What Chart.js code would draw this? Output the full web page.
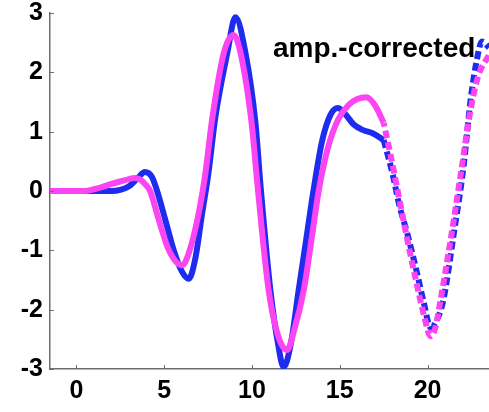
<!DOCTYPE html>
<html>
<head>
<meta charset="utf-8">
<script src="https://cdn.jsdelivr.net/npm/chart.js@4/dist/chart.umd.min.js"></script>
<style>
html,body{margin:0;padding:0;background:#fff;}
#wrap{width:489px;height:412px;position:relative;}
</style>
</head>
<body>
<div id="wrap"><canvas id="c" width="489" height="412"></canvas></div>
<script>
// Blue series (solid part then dashed continuation)
const blueSolidX = [-1.5, 0, 1, 1.5, 2, 2.5, 3, 3.5, 3.9, 4.3, 4.6, 5.07, 5.6, 6.0, 6.4, 6.8, 7.15, 7.5, 7.92, 8.6, 9.06, 9.63, 10.2, 10.5, 11.05, 11.5, 11.8, 12.2, 12.66, 13.1, 13.5, 14.0, 14.5, 14.9, 15.3, 15.8, 16.3, 16.9, 17.5];
const blueSolidY = [0, 0, 0, 0, 0, 0.02, 0.08, 0.22, 0.32, 0.24, 0, -0.49, -1.05, -1.35, -1.48, -1.1, -0.4, 0.25, 1.25, 2.33, 2.93, 2.33, 1.15, 0.05, -1.67, -2.6, -2.97, -2.6, -1.67, -0.8, 0, 0.85, 1.3, 1.4, 1.3, 1.12, 1.03, 0.97, 0.86];
const blueDashX = [17.5, 18.0, 18.4, 18.84, 19.4, 19.8, 20.17, 20.45, 20.9, 21.5, 22.05, 22.45, 22.8, 23.1, 23.5];
const blueDashY = [0.86, 0.3, -0.25, -0.71, -1.38, -1.9, -2.3, -2.22, -1.84, -0.71, 0.41, 1.53, 2.2, 2.52, 2.42];

// Magenta series
const magSolidX = [-1.5, 0, 0.5, 1, 1.5, 2, 2.5, 3, 3.3, 3.6, 3.9, 4.2, 4.7, 5.2, 5.7, 6.04, 6.4, 6.95, 7.35, 7.73, 8.4, 8.95, 9.35, 10.0, 10.3, 10.95, 11.5, 12.0, 12.4, 12.95, 13.4, 13.8, 14.3, 14.9, 15.5, 16.0, 16.5, 17.0, 17.5];
const magSolidY = [0, 0, 0, 0.03, 0.07, 0.12, 0.16, 0.2, 0.22, 0.2, 0.12, 0, -0.49, -0.95, -1.2, -1.25, -1.05, -0.4, 0.3, 1.2, 2.33, 2.63, 2.33, 1.1, 0.15, -1.67, -2.45, -2.68, -2.35, -1.67, -0.8, 0, 0.7, 1.2, 1.45, 1.55, 1.58, 1.45, 1.15];
const magDashX = [17.5, 17.9, 18.3, 18.8, 19.3, 19.8, 20.17, 20.45, 20.74, 21.3, 21.9, 22.45, 22.9, 23.5];
const magDashY = [1.15, 0.6, 0, -0.75, -1.45, -2.1, -2.45, -2.3, -1.84, -0.85, 0.3, 1.37, 1.95, 2.29];

const xTicks = [0, 5, 10, 15, 20];
const yTicks = [-3, -2, -1, 0, 1, 2, 3];
const annotationText = "amp.-corrected";

const BLUE = '#1e2cf0';
const MAG = '#fb45f2';

function pts(xs, ys){ return xs.map((x,i)=>({x:x, y:ys[i]})); }

const inwardTicks = {
  id:'inwardTicks',
  afterDraw(chart){
    const ctx = chart.ctx, xs = chart.scales.x, ys = chart.scales.y;
    ctx.save();
    ctx.strokeStyle = '#6e6e6e';
    ctx.lineWidth = 1;
    ctx.beginPath();
    xTicks.forEach(v=>{
      const px = Math.round(xs.getPixelForValue(v))+0.5;
      ctx.moveTo(px, ys.bottom); ctx.lineTo(px, ys.bottom-4);
    });
    yTicks.forEach(v=>{
      const py = Math.round(ys.getPixelForValue(v))+0.5;
      ctx.moveTo(xs.left, py); ctx.lineTo(xs.left+4, py);
    });
    ctx.stroke();
    ctx.fillStyle = '#000';
    ctx.font = 'bold 28px "Liberation Sans", Arial, sans-serif';
    ctx.textAlign = 'left';
    ctx.textBaseline = 'alphabetic';
    ctx.fillText(annotationText, xs.getPixelForValue(11.2), ys.getPixelForValue(2.26));
    ctx.restore();
  }
};

const common = {borderWidth: 6, pointRadius: 0, cubicInterpolationMode: 'monotone', fill: false, borderCapStyle: 'butt'};

new Chart(document.getElementById('c'), {
  type: 'line',
  data: {
    datasets: [
      Object.assign({data: pts(magSolidX, magSolidY), borderColor: MAG}, common),
      Object.assign({data: pts(magDashX, magDashY), borderColor: MAG, borderDash: [8,4], borderDashOffset: 4}, common),
      Object.assign({data: pts(blueSolidX, blueSolidY), borderColor: BLUE}, common),
      Object.assign({data: pts(blueDashX, blueDashY), borderColor: BLUE, borderDash: [8,4]}, common)
    ]
  },
  options: {
    responsive: false,
    animation: false,
    events: [],
    layout: {autoPadding: false, padding: {top: 13, right: 0, left: 0, bottom: 0}},
    plugins: {legend: {display: false}, tooltip: {enabled: false}},
    scales: {
      x: {
        type: 'linear', min: -1.5, max: 23.5,
        afterBuildTicks(s){ s.ticks = xTicks.map(v=>({value:v})); },
        afterFit(s){ s.height = 43; },
        grid: {display: false, drawTicks: false},
        border: {display: true, color: '#6e6e6e', width: 1.5},
        ticks: {color: '#000', font: {family: '"Liberation Sans", Arial, sans-serif', size: 25, weight: 'bold', lineHeight: 1}, padding: 10, maxRotation: 0}
      },
      y: {
        type: 'linear', min: -3, max: 3,
        afterBuildTicks(s){ s.ticks = yTicks.map(v=>({value:v})); },
        afterFit(s){ s.width = 50; s.paddingTop = 0; s.paddingBottom = 0; },
        grid: {display: false, drawTicks: false},
        border: {display: true, color: '#6e6e6e', width: 1.5},
        ticks: {color: '#000', font: {family: '"Liberation Sans", Arial, sans-serif', size: 25, weight: 'bold', lineHeight: 1}, padding: 7}
      }
    }
  },
  plugins: [inwardTicks]
});
</script>
</body>
</html>
